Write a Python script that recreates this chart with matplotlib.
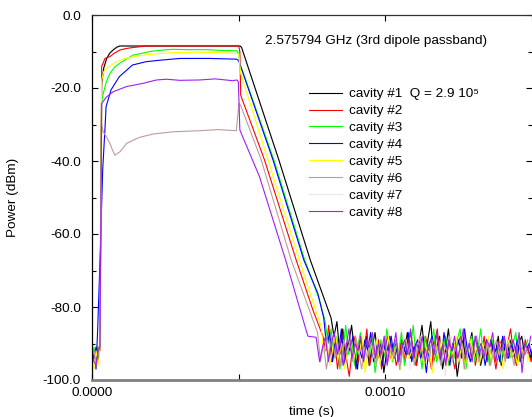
import numpy as np
import matplotlib.pyplot as plt

plt.rcParams['font.family'] = ['Liberation Sans', 'DejaVu Sans']

# --- data (time in ms, power in dBm) ---
# pulse shape: breakpoints
c1_t = [0, 0.007, 0.014, 0.021, 0.027, 0.033, 0.040, 0.050, 0.060, 0.072, 0.085, 0.095, 0.505, 0.510, 0.637, 0.744, 0.815]
c1_p = [-92, -94, -91, -95, -90, -18.7, -14.5, -11.9, -10.5, -9.6, -8.8, -8.5, -8.5, -8.9, -39.7, -67.1, -83]
c2_t = [0, 0.007, 0.014, 0.021, 0.027, 0.033, 0.038, 0.044, 0.061, 0.075, 0.095, 0.115, 0.140, 0.186, 0.500, 0.504, 0.507, 0.588, 0.696, 0.753, 0.787]
c2_p = [-96, -93, -95, -91, -92, -14, -13.2, -11.9, -11.4, -10.5, -9.6, -9.2, -8.9, -8.5, -8.5, -10, -22, -39.7, -67.1, -80.8, -88]
c3_t = [0, 0.007, 0.014, 0.021, 0.027, 0.033, 0.037, 0.048, 0.061, 0.078, 0.095, 0.118, 0.140, 0.170, 0.197, 0.240, 0.276, 0.330, 0.390, 0.440, 0.493, 0.500, 0.503, 0.620, 0.725, 0.775, 0.795]
c3_p = [-93, -91, -94, -92, -90, -24, -22, -18.5, -16, -14.2, -13.2, -12, -11, -10.5, -10, -9.6, -9.4, -9.5, -9.5, -9.7, -9.8, -10.5, -13, -39.7, -67.1, -78, -84]
c4_t = [0, 0.006, 0.010, 0.0136, 0.0194, 0.027, 0.0364, 0.044, 0.048, 0.065, 0.093, 0.138, 0.184, 0.230, 0.300, 0.400, 0.493, 0.500, 0.617, 0.722, 0.770, 0.790]
c4_p = [-91, -94, -92, -97, -86, -68, -42.5, -31.5, -25.1, -20.5, -16.9, -13.7, -12.8, -12.4, -11.9, -11.9, -12.1, -12.5, -39.7, -67.1, -76.3, -83]
c5_t = [0, 0.007, 0.014, 0.021, 0.027, 0.033, 0.040, 0.050, 0.065, 0.084, 0.110, 0.140, 0.197, 0.276, 0.350, 0.420, 0.493, 0.500, 0.507, 0.600, 0.707, 0.781]
c5_p = [-95, -97, -92, -96, -91, -17.8, -15.5, -14.6, -13.8, -12.8, -12, -11.4, -10.8, -10.3, -10.2, -10.3, -10.5, -10.6, -16, -39.7, -67.1, -85.4]
c6_t = [0, 0.007, 0.014, 0.021, 0.027, 0.033, 0.038, 0.050, 0.061, 0.070, 0.078, 0.095, 0.118, 0.140, 0.163, 0.209, 0.276, 0.367, 0.430, 0.492, 0.501, 0.507, 0.577, 0.679, 0.769]
c6_p = [-94, -92, -96, -93, -91, -30, -32, -33.5, -35.2, -37, -38.4, -37.5, -35.2, -34.3, -33.5, -32.6, -32, -31.7, -31.4, -31.7, -24.2, -24.8, -39.7, -67.1, -87]
c7_t = [0, 0.007, 0.014, 0.021, 0.027, 0.033, 0.048, 0.070, 0.099, 0.505, 0.510, 0.637, 0.744, 0.815]
c7_p = [-91, -93, -90, -92, -91, -20, -12.8, -9.1, -8.3, -8.3, -8.9, -39.7, -67.1, -83]
c8_t = [0, 0.007, 0.014, 0.021, 0.027, 0.033, 0.050, 0.073, 0.118, 0.175, 0.220, 0.254, 0.300, 0.367, 0.420, 0.480, 0.494, 0.499, 0.504, 0.571, 0.660, 0.736, 0.764, 0.776]
c8_p = [-93, -95, -96, -92, -91, -24.2, -22.4, -21, -19.6, -18.7, -17.8, -17.6, -17.9, -17.8, -17.5, -18, -17.8, -18.3, -31.5, -44.3, -67.1, -88, -88.3, -95]

# noise floor after the decay, one sample every 0.01 ms
c1_tail = [-88, -84, -93, -86, -95, -90, -85, -92, -97, -89, -93, -88, -96, -91, -87, -94, -90, -98, -92, -88, -93, -90, -95, -89, -92, -87, -94, -91, -96, -90, -85, -93, -89, -84, -95, -91, -88, -97, -92, -86, -94, -90, -99, -93, -89, -95, -91, -87, -94, -90, -96, -92, -89, -95, -90, -93, -88, -96, -91, -94, -89, -92, -95, -90, -88, -93, -91, -94, -90, -92]
c2_tail = [-92, -85, -95, -89, -97, -91, -87, -94, -99, -92, -88, -95, -90, -93, -86, -96, -91, -94, -89, -97, -92, -88, -94, -90, -96, -93, -89, -95, -91, -87, -93, -96, -90, -94, -88, -92, -97, -90, -86, -94, -91, -95, -89, -93, -97, -90, -88, -95, -92, -94, -89, -96, -91, -93, -88, -95, -90, -92, -97, -91, -89, -94, -90, -86, -93, -96, -91, -94, -89, -92, -95, -90]
c3_tail = [-90, -86, -94, -88, -97, -92, -85, -93, -89, -96, -91, -87, -95, -90, -93, -88, -98, -92, -89, -94, -86, -91, -95, -89, -93, -87, -96, -90, -92, -85, -94, -90, -97, -88, -93, -91, -86, -95, -90, -93, -88, -96, -91, -94, -89, -86, -93, -97, -90, -88, -95, -92, -86, -94, -90, -96, -89, -93, -91, -95, -88, -92, -94, -90, -87, -95, -91, -93, -89]
c4_tail = [-91, -87, -95, -89, -93, -86, -96, -90, -92, -88, -97, -91, -94, -89, -92, -87, -95, -90, -93, -96, -89, -92, -88, -94, -91, -97, -90, -93, -87, -95, -91, -89, -94, -92, -98, -90, -88, -93, -91, -95, -87, -92, -96, -90, -93, -89, -94, -86, -92, -95, -91, -88, -94, -90, -96, -92, -89, -93, -91, -95, -88, -92, -94, -90, -93, -89, -95, -91, -92, -90, -94]
c5_tail = [-93, -89, -96, -91, -88, -94, -90, -97, -92, -89, -95, -91, -93, -88, -98, -92, -90, -94, -89, -96, -91, -93, -88, -95, -92, -90, -97, -91, -89, -94, -92, -95, -90, -88, -96, -91, -93, -98, -90, -94, -89, -92, -96, -91, -93, -88, -95, -90, -97, -92, -89, -94, -91, -96, -90, -93, -88, -95, -92, -94, -90, -97, -91, -89, -94, -92, -96, -90, -93, -91, -95]
c6_tail = [-95, -90, -97, -92, -88, -94, -91, -96, -89, -93, -90, -95, -88, -92, -97, -91, -94, -89, -92, -96, -90, -93, -88, -95, -91, -94, -90, -97, -92, -89, -93, -90, -96, -91, -88, -94, -92, -95, -89, -93, -91, -96, -90, -92, -88, -95, -91, -94, -89, -97, -92, -90, -93, -88, -95, -91, -94, -90, -96, -92, -89, -93, -91, -95, -90, -92, -96, -91, -89, -94, -92, -93]
c7_tail = [-91, -94, -88, -96, -90, -93, -87, -95, -92, -89, -97, -91, -94, -90, -92, -88, -96, -91, -93, -89, -95, -90, -92, -86, -94, -91, -97, -90, -93, -88, -95, -92, -89, -94, -91, -96, -90, -92, -99, -91, -88, -94, -90, -95, -92, -89, -93, -91, -96, -88, -92, -94, -90, -93, -89, -95, -91, -92, -96, -90, -93, -89, -94, -91, -92, -88, -95, -90]
c8_tail = [-91, -88, -95, -90, -87, -93, -89, -96, -91, -86, -94, -90, -92, -88, -95, -89, -91, -87, -94, -90, -93, -88, -96, -90, -92, -87, -95, -91, -89, -93, -86, -94, -90, -92, -88, -95, -91, -89, -93, -87, -94, -90, -96, -89, -92, -88, -94, -91, -86, -93, -90, -95, -88, -92, -90, -94, -89, -91, -87, -95, -90, -92, -88, -94, -91, -89, -93, -87, -98, -90, -92, -88]

labels = ['cavity #1  Q = 2.9 10\u2075', 'cavity #2', 'cavity #3', 'cavity #4',
          'cavity #5', 'cavity #6', 'cavity #7', 'cavity #8']
colors = ['#000000', '#ff0000', '#00ff00', '#0000ff',
          '#ffff00', '#c09a9a', '#e8e8e8', '#a020f0']
zorders = [2.2, 2.2, 2.2, 2.2, 2.2, 2.2, 2.0, 2.3]

series = [(c1_t, c1_p, c1_tail), (c2_t, c2_p, c2_tail), (c3_t, c3_p, c3_tail),
          (c4_t, c4_p, c4_tail), (c5_t, c5_p, c5_tail), (c6_t, c6_p, c6_tail),
          (c7_t, c7_p, c7_tail), (c8_t, c8_p, c8_tail)]

fig = plt.figure(figsize=(5.32, 4.17), dpi=100)
ax = fig.add_axes([92 / 532, 37 / 417, 440 / 532, 365 / 417])

for (t, p, tail), lab, col, z in zip(series, labels, colors, zorders):
    t_tail = t[-1] + 0.01 * np.arange(1, len(tail) + 1)
    tt = np.concatenate([np.array(t), t_tail]) * 1e-3
    pp = np.concatenate([np.array(p), np.array(tail)])
    ax.plot(tt, pp, color=col, lw=0.8, label=lab, zorder=z)

ax.set_xlim(0, 0.0015)
ax.set_ylim(-100, 0)
ax.set_xticks([0, 0.0005, 0.001, 0.0015])
ax.set_xticklabels(['0.0000', '', '0.0010', ''])
ax.set_yticks(np.arange(-100, 1, 20))
ax.set_yticklabels(['%.1f' % v for v in np.arange(-100, 1, 20)])
ax.set_yticks(np.arange(-90, 0, 20), minor=True)
ax.tick_params(which='both', direction='in', top=True, right=True,
               labelsize=9.7, colors='black')
ax.tick_params(which='major', length=4, width=0.8, pad=5)
ax.tick_params(which='minor', length=3, width=0.8)
ax.tick_params(axis='y', pad=8)

ax.spines['right'].set_visible(False)
ax.spines['left'].set_linewidth(0.9)
ax.spines['top'].set_color('#333333')
ax.spines['top'].set_linewidth(0.9)
ax.spines['bottom'].set_color('#808080')
ax.spines['bottom'].set_linewidth(2)

ax.set_xlabel('time (s)', fontsize=9.7)
ax.set_ylabel('Power (dBm)', fontsize=9.7)
ax.xaxis.set_label_coords(0.5, -0.07)
ax.yaxis.set_label_coords(-0.165, 0.5)

ax.text((265 - 92) / 440, (380 - 41) / 365, '2.575794 GHz (3rd dipole passband)',
        transform=ax.transAxes, fontsize=9.7, va='center', ha='left')

ax.legend(loc='upper left', bbox_to_anchor=((309 - 92) / 440, (380 - 88) / 365),
          frameon=False, fontsize=9.7, handlelength=2.45, handletextpad=0.5,
          borderpad=0, borderaxespad=0, labelspacing=0.33)

fig.savefig('out.png', dpi=100)
